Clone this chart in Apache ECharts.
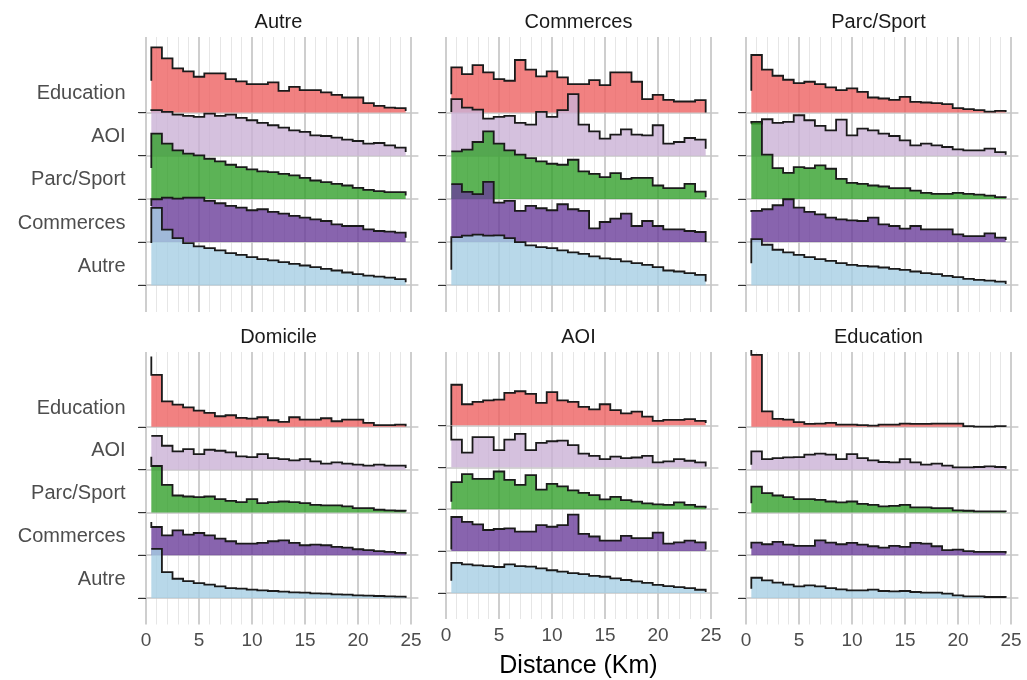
<!DOCTYPE html>
<html>
<head>
<meta charset="utf-8">
<script src="https://cdn.jsdelivr.net/npm/echarts@6/dist/echarts.min.js"></script>
<style>html,body{margin:0;padding:0;background:#fff}#c{width:1027px;height:680px}</style>
</head>
<body>
<div id="c"></div>
<script>
// ---- DATA (bin heights, 1-km bins centred on 1..24 km; arbitrary relative units) ----
const facetNames = ['Autre', 'Commerces', 'Parc/Sport', 'Domicile', 'AOI', 'Education'];
const ridgeNames = ['Education', 'AOI', 'Parc/Sport', 'Commerces', 'Autre']; // top -> bottom
const binCentres = [1,2,3,4,5,6,7,8,9,10,11,12,13,14,15,16,17,18,19,20,21,22,23,24];
const xTickLabels = [0, 5, 10, 15, 20, 25];

// facet "Autre"
const autre_Education = [195,162,132,123,107,117,117,100,93,85,85,90,65,77,67,67,60,53,45,45,28,20,15,13];
const autre_AOI       = [136,131,123,119,116,126,119,123,113,106,98,91,84,76,71,61,59,54,48,44,36,38,31,24];
const autre_Parc      = [195,165,145,135,130,120,112,102,95,88,82,80,75,70,63,55,50,45,40,33,27,23,20,20];
const autre_Commerces = [128,133,130,133,133,123,116,108,103,95,98,90,85,78,73,68,63,53,48,48,38,33,31,28];
const autre_Autre     = [231,166,141,126,116,111,104,96,91,84,78,74,69,64,59,54,49,44,38,33,29,26,23,18];
const autre_edgeStart = [95,134,92,108,126];
const autre_edgeEnd   = [5,11,10,13,9];

// facet "Commerces"
const comm_Education = [135,115,142,120,100,95,157,128,108,123,105,85,85,97,82,120,120,92,40,53,38,33,33,37];
const comm_AOI       = [169,144,138,111,116,119,98,93,131,116,136,184,93,73,51,63,79,63,61,91,36,41,53,48];
const comm_Parc      = [142,147,170,202,165,145,132,122,112,105,102,117,82,75,65,77,60,63,63,40,32,32,45,22];
const comm_Commerces = [173,150,143,180,118,123,93,108,101,95,113,98,93,41,60,70,85,48,63,48,38,38,33,30];
const comm_Autre     = [144,148,151,148,149,141,129,119,114,111,104,98,94,86,80,78,71,66,61,54,44,41,36,31];
const comm_edgeStart = [55,131,142,173,46];
const comm_edgeEnd   = [0,21,5,0,11];

// facet "Parc/Sport"
const parc_Education = [172,128,110,98,88,92,85,75,67,72,62,45,42,38,47,32,30,28,25,13,10,7,3,5];
const parc_AOI       = [96,109,98,101,121,106,89,76,108,61,81,76,66,59,46,31,36,31,26,19,16,16,21,11];
const parc_Parc      = [230,132,92,78,95,92,100,90,60,48,45,40,37,32,32,25,18,15,15,18,15,13,10,5];
const parc_Commerces = [93,98,110,128,103,90,83,73,68,65,63,73,53,48,40,48,38,38,38,23,18,18,26,13];
const parc_Autre     = [138,121,106,98,91,84,78,73,66,61,58,56,53,49,46,41,36,33,28,24,19,16,14,11];
const parc_edgeStart = [65,96,225,90,66];
const parc_edgeEnd   = [2,3,2,6,4];

// facet "Domicile"
const dom_Education = [157,77,67,59,49,42,32,35,27,25,29,20,15,29,22,22,26,17,22,22,12,5,5,7];
const dom_AOI       = [102,72,55,62,47,60,57,52,40,38,47,35,32,28,32,25,18,22,18,15,12,15,12,12];
const dom_Parc      = [140,83,51,48,46,48,40,35,31,40,28,31,33,31,28,23,21,21,18,13,13,8,6,5];
const dom_Commerces = [85,60,75,62,67,60,50,42,35,35,37,42,45,37,30,32,30,25,23,18,15,12,10,7];
const dom_Autre     = [148,78,58,51,45,40,35,30,28,25,23,21,19,17,16,14,13,11,10,8,7,6,5,4];
const dom_edgeStart = [212,102,168,100,148];
const dom_edgeEnd   = [2,5,3,3,1];

// facet "AOI"
const aoi_Education = [125,65,72,77,79,100,105,97,69,102,77,72,57,49,65,47,37,42,27,14,17,17,19,14];
const aoi_AOI       = [85,45,93,93,53,85,103,53,75,80,82,68,42,35,25,33,28,30,35,15,18,25,20,15];
const aoi_Parc      = [83,108,93,93,116,90,75,105,60,78,70,58,50,43,30,38,28,23,18,15,13,21,13,8];
const aoi_Commerces = [105,90,82,65,68,70,60,60,80,75,80,112,53,45,32,32,47,40,40,57,23,27,32,27];
const aoi_Autre     = [93,88,85,83,80,88,83,81,76,70,66,61,58,53,50,45,40,36,31,25,21,18,15,10];
const aoi_edgeStart = [0,128,23,5,38];
const aoi_edgeEnd   = [7,2,3,5,3];

// facet "Education"
const edu_Education = [217,47,24,22,14,9,10,12,7,7,5,4,7,7,10,9,9,10,10,10,2,1,1,2];
const edu_AOI       = [55,32,35,37,38,45,48,45,32,47,35,28,23,22,32,22,15,18,12,7,7,8,10,8];
const edu_Parc      = [78,58,51,46,40,40,38,33,30,33,26,23,18,20,23,15,15,13,13,6,5,3,3,3];
const edu_Commerces = [38,33,40,32,28,28,45,38,33,37,32,27,23,28,25,37,35,27,15,17,12,10,10,10];
const edu_Autre     = [61,53,46,40,35,38,35,30,26,23,23,25,21,20,21,18,16,16,13,8,5,5,3,3];
const edu_edgeStart = [232,15,28,20,28];
const edu_edgeEnd   = [0,3,1,5,1];

// ---- assembly ----
const facetBins = [
  [autre_Education, autre_AOI, autre_Parc, autre_Commerces, autre_Autre],
  [comm_Education, comm_AOI, comm_Parc, comm_Commerces, comm_Autre],
  [parc_Education, parc_AOI, parc_Parc, parc_Commerces, parc_Autre],
  [dom_Education, dom_AOI, dom_Parc, dom_Commerces, dom_Autre],
  [aoi_Education, aoi_AOI, aoi_Parc, aoi_Commerces, aoi_Autre],
  [edu_Education, edu_AOI, edu_Parc, edu_Commerces, edu_Autre]
];
const facetStart = [autre_edgeStart, comm_edgeStart, parc_edgeStart, dom_edgeStart, aoi_edgeStart, edu_edgeStart];
const facetEnd   = [autre_edgeEnd, comm_edgeEnd, parc_edgeEnd, dom_edgeEnd, aoi_edgeEnd, edu_edgeEnd];

const ridgeColors = ['rgba(238,97,97,0.8)', 'rgba(202,178,214,0.8)', 'rgba(51,160,44,0.8)', 'rgba(106,61,154,0.8)', 'rgba(166,206,227,0.8)'];
const SCALE = 129; // value units per ridge spacing
const BINW = 1;

const colLeft = [138.6, 438.6, 738.6];
const colWidth = 279.8;
const rowTop = [37, 352];
const rowHeight = [275, 272.5];
const Y_MIN = -0.62, Y_MAX = 5.75, X_MIN = -0.7, X_MAX = 25.7;
const FONT = 'Liberation Sans, Arial, Helvetica, sans-serif';

const grids = [], xAxes = [], yAxes = [], series = [], graphics = [];
for (let f = 0; f < 6; f++) {
  const col = f % 3, row = Math.floor(f / 3);
  grids.push({left: colLeft[col], top: rowTop[row], width: colWidth, height: rowHeight[row], containLabel: false});
  xAxes.push({
    gridIndex: f, type: 'value', min: X_MIN, max: X_MAX,
    axisLine: {show: false}, axisTick: {show: false}, splitLine: {show: false},
    axisLabel: {show: row === 1, customValues: xTickLabels, color: '#4d4d4d', fontSize: 19, fontFamily: FONT, margin: 7},
    name: (f === 4) ? 'Distance (Km)' : '', nameLocation: 'middle', nameGap: 35,
    nameTextStyle: {color: '#000', fontSize: 25, fontFamily: FONT}
  });
  yAxes.push({
    gridIndex: f, type: 'value', min: Y_MIN, max: Y_MAX,
    axisLine: {show: false}, splitLine: {show: false},
    axisTick: {show: true, customValues: [0,1,2,3,4], length: 8, lineStyle: {color: '#333', width: 1}},
    axisLabel: {show: col === 0, customValues: [0.44,1.44,2.44,3.44,4.44], color: '#4d4d4d', fontSize: 20, fontFamily: FONT, margin: 13,
      formatter: v => ridgeNames[4 - Math.round(v - 0.44)]}
  });
  // gridlines
  const vLines = [];
  for (let k = 0; k <= 25; k++) {
    const major = k % 5 === 0;
    vLines.push({xAxis: k, lineStyle: {color: major ? '#c6c6c6' : '#e6e6e6', width: major ? 1.7 : 1, type: 'solid'}});
  }
  for (let r = 0; r < 5; r++) vLines.push({yAxis: r, lineStyle: {color: '#c6c6c6', width: 1.7, type: 'solid'}});
  series.push({
    type: 'scatter', xAxisIndex: f, yAxisIndex: f, data: [], silent: true, z: 0, zlevel: 0,
    markLine: {silent: true, z: 0, symbol: 'none', label: {show: false}, animation: false, data: vLines}
  });
  // ridges
  series.push({
    type: 'custom', xAxisIndex: f, yAxisIndex: f, z: 10, clip: false, silent: true, animation: false,
    data: ridgeNames.map((n, i) => [i]),
    renderItem: (function (fi) {
      return function (params, api) {
        const i = params.dataIndex;
        const vals = facetBins[fi][i];
        const base = 4 - i;
        const fill = [api.coord([binCentres[0] - BINW / 2, base])];
        const line = [api.coord([binCentres[0] - BINW / 2, base + facetStart[fi][i] / SCALE])];
        for (let b = 0; b < vals.length; b++) {
          const x0 = binCentres[b] - BINW / 2, x1 = binCentres[b] + BINW / 2;
          const y = base + vals[b] / SCALE;
          const p0 = api.coord([x0, y]), p1 = api.coord([x1, y]);
          fill.push(p0, p1); line.push(p0, p1);
        }
        const xe = binCentres[vals.length - 1] + BINW / 2;
        fill.push(api.coord([xe, base]));
        line.push(api.coord([xe, base + facetEnd[fi][i] / SCALE]));
        return {
          type: 'group',
          children: [
            {type: 'polygon', shape: {points: fill}, style: {fill: ridgeColors[i], stroke: null}},
            {type: 'polyline', shape: {points: line}, style: {stroke: '#1a1a1a', lineWidth: 1.8, fill: null, lineJoin: 'miter'}}
          ]
        };
      };
    })(f)
  });
  graphics.push({
    x: colLeft[col] + colWidth / 2, y: rowTop[row] - 25,
    style: {text: facetNames[f], fill: '#1a1a1a', font: '20px ' + FONT, textAlign: 'center', textVerticalAlign: 'top'}
  });
}

const chart = echarts.init(document.getElementById('c'), null, {renderer: 'canvas'});
chart.setOption({
  backgroundColor: '#ffffff',
  animation: false,
  grid: grids, xAxis: xAxes, yAxis: yAxes, series: series,
  graphic: graphics.map(g => ({type: 'text', x: g.x, y: g.y, silent: true, style: g.style}))
});
</script>
</body>
</html>
